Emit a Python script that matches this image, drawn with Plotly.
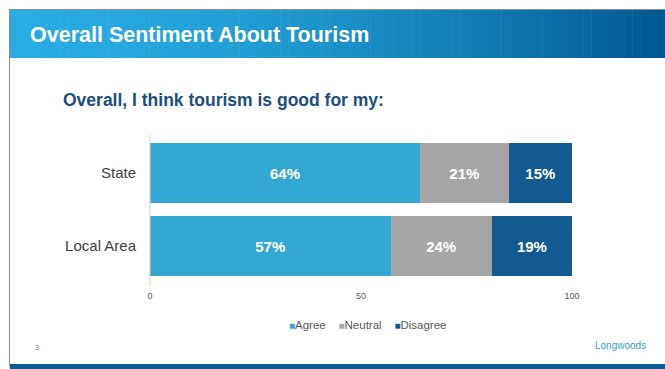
import plotly.graph_objects as go

# Survey data
categories = ["State", "Local Area"]
series_names = ["Agree", "Neutral", "Disagree"]
agree = [64, 57]
neutral = [21, 24]
disagree = [15, 19]
tick_vals = [0, 50, 100]

series_values = [agree, neutral, disagree]
series_colors = ["#33A8D4", "#A5A5A5", "#125A92"]

W, H = 665, 369
FONT = "Liberation Sans, Arial"

fig = go.Figure()
for name, vals, col in zip(series_names, series_values, series_colors):
    fig.add_trace(go.Bar(
        y=categories, x=vals, name=name, orientation="h",
        marker=dict(color=col, line=dict(width=0)),
        text=[f"{v}%" for v in vals], textposition="inside",
        insidetextanchor="middle",
        textfont=dict(family=FONT, size=15, color="white", weight="bold"),
        hoverinfo="skip", showlegend=False,
    ))


def px(x):
    return x / W


def py(y):
    return 1 - y / H


shapes = []

# header banner with left-to-right gradient
c0 = (0x29, 0xAC, 0xE3)
c1 = (0x00, 0x58, 0x93)
n = 80
x_start, x_end = 10, 665
for i in range(n):
    t = i / (n - 1)
    t2 = t ** 1.6
    r, g, b = (int(round(a + (bb - a) * t2)) for a, bb in zip(c0, c1))
    xa = x_start + (x_end - x_start) * i / n
    xb = x_start + (x_end - x_start) * (i + 1) / n + 0.5
    shapes.append(dict(type="rect", xref="paper", yref="paper",
                       x0=px(xa), x1=px(xb), y0=py(58), y1=py(10),
                       fillcolor=f"rgb({r},{g},{b})", line=dict(width=0), layer="below"))

# slide outline
shapes.append(dict(type="line", xref="paper", yref="paper",
                   x0=px(9.5), x1=px(9.5), y0=py(9), y1=py(366),
                   line=dict(color="#8C8C8C", width=1)))
shapes.append(dict(type="line", xref="paper", yref="paper",
                   x0=px(9.5), x1=px(665), y0=py(9.5), y1=py(9.5),
                   line=dict(color="#8C8C8C", width=1)))
# bottom band
shapes.append(dict(type="rect", xref="paper", yref="paper",
                   x0=px(10), x1=px(665), y0=py(369), y1=py(364),
                   fillcolor="#0B5A96", line=dict(width=0)))
# vertical category axis line
shapes.append(dict(type="line", xref="paper", yref="paper",
                   x0=px(150), x1=px(150), y0=py(135), y1=py(285),
                   line=dict(color="#D0D0D0", width=1)))

# compact legend row
gap = "&nbsp;" * 4
legend_html = gap.join(
    f"<span style='color:{c}; font-size:10px'>■</span>{nm}"
    for nm, c in zip(series_names, series_colors)
)

annotations = [
    dict(text="Overall Sentiment About Tourism", xref="paper", yref="paper",
         x=px(28), y=py(35), xanchor="left", yanchor="middle", showarrow=False,
         font=dict(family=FONT, size=21.5, color="white", weight="bold")),
    dict(text="Overall, I think tourism is good for my:", xref="paper", yref="paper",
         x=px(61), y=py(100), xanchor="left", yanchor="middle", showarrow=False,
         font=dict(family=FONT, size=17.5, color="#1D4E7E", weight="bold")),
    dict(text=legend_html, xref="paper", yref="paper",
         x=px(368), y=py(325), xanchor="center", yanchor="middle", showarrow=False,
         font=dict(family=FONT, size=11.5, color="#595959")),
    dict(text="3", xref="paper", yref="paper",
         x=px(37), y=py(347), xanchor="center", yanchor="middle", showarrow=False,
         font=dict(family=FONT, size=7, color="#4F86B0")),
    dict(text="Longwoods", xref="paper", yref="paper",
         x=px(620), y=py(345), xanchor="center", yanchor="middle", showarrow=False,
         font=dict(family=FONT, size=10, color="#3E9BB8")),
]

fig.update_layout(
    width=W, height=H, autosize=False,
    margin=dict(l=0, r=0, t=0, b=0, autoexpand=False),
    paper_bgcolor="white", plot_bgcolor="white",
    barmode="stack", bargap=0.18,
    showlegend=False,
    xaxis=dict(domain=[px(150), px(572)], range=[0, 100], tickvals=tick_vals,
               showgrid=False, zeroline=False, showline=False, ticks="",
               tickfont=dict(family=FONT, size=9, color="#595959"),
               ticklabelstandoff=6, fixedrange=True, automargin=False),
    yaxis=dict(domain=[py(282.5), py(136.5)], categoryorder="array",
               categoryarray=categories[::-1], showgrid=False, zeroline=False,
               showline=False, ticks="", ticklabelstandoff=13,
               tickfont=dict(family=FONT, size=15, color="#404040"),
               fixedrange=True, automargin=False),
    shapes=shapes,
    annotations=annotations,
    uniformtext=dict(mode="show", minsize=8),
)

fig.write_html(
    "out.html",
    config={"displayModeBar": False, "responsive": False},
)
